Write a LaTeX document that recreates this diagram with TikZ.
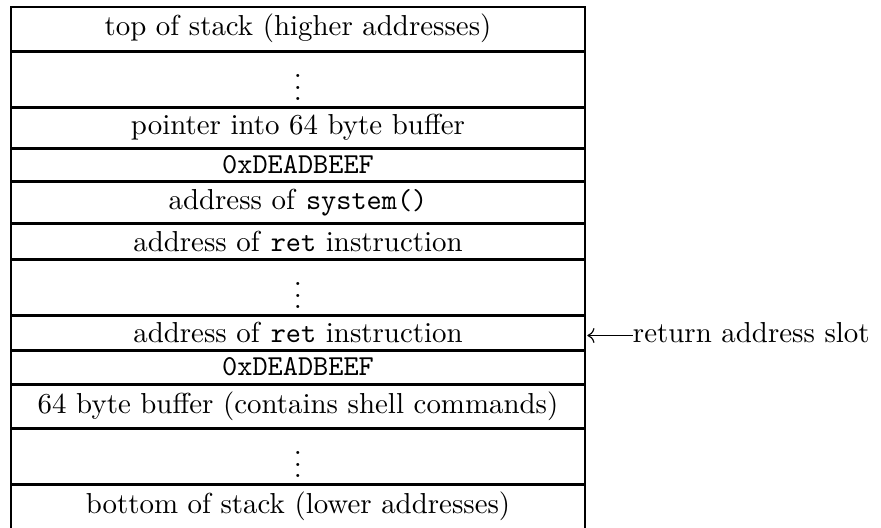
\documentclass[tikz,border=0pt]{standalone}
\usepackage{amsmath}
\usetikzlibrary{arrows.meta, positioning}

\begin{document}
\begin{tikzpicture}[
        node distance=0.6pt,
        % Define styles for the stack slots
        slot/.style={rectangle, draw, line width=0.4pt, minimum width=198.7pt, inner sep=0pt, outer sep=0pt, text centered},
        gap/.style={slot, minimum height=18.78pt},
        note/.style={rectangle, inner sep=0pt, outer sep=0pt},
        frame/.style={draw, line width=0.4pt},
        line/.style={draw, -{To}, line width=0.4pt, shorten >=0.8pt}
    ]
    \useasboundingbox (0,0) rectangle (304.95pt,-182.42pt);

    % --- Nodes ---
    % Upper end of the stack
    \node [slot, minimum height=14.98pt, anchor=north] (top) at (103.15pt,-2.42pt) {top of stack (higher addresses)};
    \node [gap, below=of top] (dots1) {$\vdots$};

    % Injected call frame
    \node [slot, minimum height=13.59pt, below=of dots1] (ptr) {pointer into 64 byte buffer};
    \node [slot, minimum height=10.82pt, below=of ptr] (beef1) {\texttt{0xDEADBEEF}};
    \node [slot, minimum height=13.94pt, below=of beef1] (sys) {address of \texttt{system()}};

    % Ret sled
    \node [slot, minimum height=11.86pt, below=of sys] (ret1) {address of \texttt{ret} instruction};
    \node [gap, below=of ret1] (dots2) {$\vdots$};
    \node [slot, minimum height=11.51pt, below=of dots2] (ret2) {address of \texttt{ret} instruction};

    % Saved frame pointer and buffer
    \node [slot, minimum height=11.17pt, below=of ret2] (beef2) {\texttt{0xDEADBEEF}};
    \node [slot, minimum height=14.63pt, below=of beef2] (buf) {64 byte buffer (contains shell commands)};
    \node [gap, below=of buf] (dots3) {$\vdots$};

    % Lower end of the stack
    \node [slot, minimum height=15.0pt, below=of dots3] (bottom) {bottom of stack (lower addresses)};

    % Label
    \node [note, right=16.6pt of ret2] (retlbl) {return address slot};

    % --- Edges ---
    \path [frame] (top.north west) -- (bottom.south west);
    \path [frame] (top.north east) -- (bottom.south east);

    \path [line] ([yshift=-1pt]retlbl.west) -- ([yshift=-1pt]ret2.east);

\end{tikzpicture}
\end{document}
